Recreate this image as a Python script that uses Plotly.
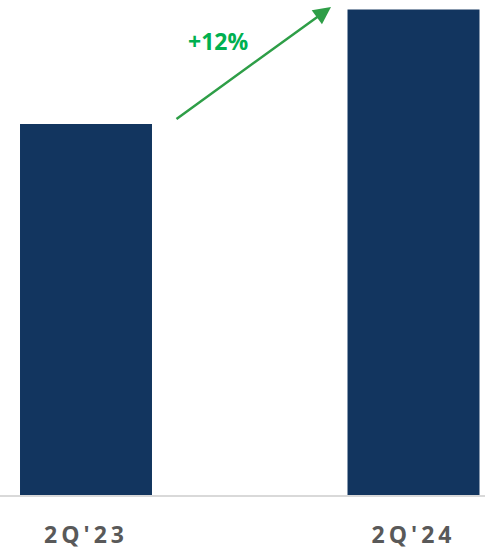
import plotly.graph_objects as go

quarters = ["2Q'23", "2Q'24"]
values = [100, 112]
change_label = "+12%"

bar_color = "#12355F"
green_text = "#00B050"
green_arrow = "#2E9E47"
label_gray = "#595959"

tick_text = [f'<span style="letter-spacing:4px">{q}</span>' for q in quarters]

fig = go.Figure(
    go.Bar(
        x=quarters,
        y=values,
        marker=dict(color=bar_color, line=dict(width=0)),
        width=0.403,
        hoverinfo="skip",
    )
)

fig.update_layout(
    width=485,
    height=550,
    margin=dict(l=0, r=0, t=0, b=0, autoexpand=False),
    paper_bgcolor="white",
    plot_bgcolor="white",
    showlegend=False,
    font=dict(family="Open Sans", color=label_gray),
    xaxis=dict(
        type="category",
        range=[-0.2626, 1.2183],
        automargin=False,
        showgrid=False,
        zeroline=False,
        showline=True,
        linecolor="#D9D9D9",
        linewidth=2,
        ticks="",
        tickvals=quarters,
        ticktext=tick_text,
        tickfont=dict(family="Open Sans", size=23, color=label_gray, weight="bold"),
        ticklabelstandoff=18,
    ),
    yaxis=dict(
        domain=[0.1, 1.0],
        range=[61.12, 113.0],
        automargin=False,
        showgrid=False,
        zeroline=False,
        showline=False,
        showticklabels=False,
        ticks="",
    ),
)

fig.add_annotation(
    xref="paper", yref="paper",
    x=331 / 485, y=1 - 7 / 550,
    ax=-156, ay=113,
    axref="pixel", ayref="pixel",
    text="",
    showarrow=True,
    arrowhead=2,
    arrowsize=1.4,
    arrowwidth=2.5,
    arrowcolor=green_arrow,
)

fig.add_annotation(
    xref="paper", yref="paper",
    x=218 / 485, y=1 - 41 / 550,
    text=f"<b>{change_label}</b>",
    showarrow=False,
    xanchor="center", yanchor="middle",
    font=dict(family="Open Sans", size=23, color=green_text),
)

fig.write_html("out.html")
